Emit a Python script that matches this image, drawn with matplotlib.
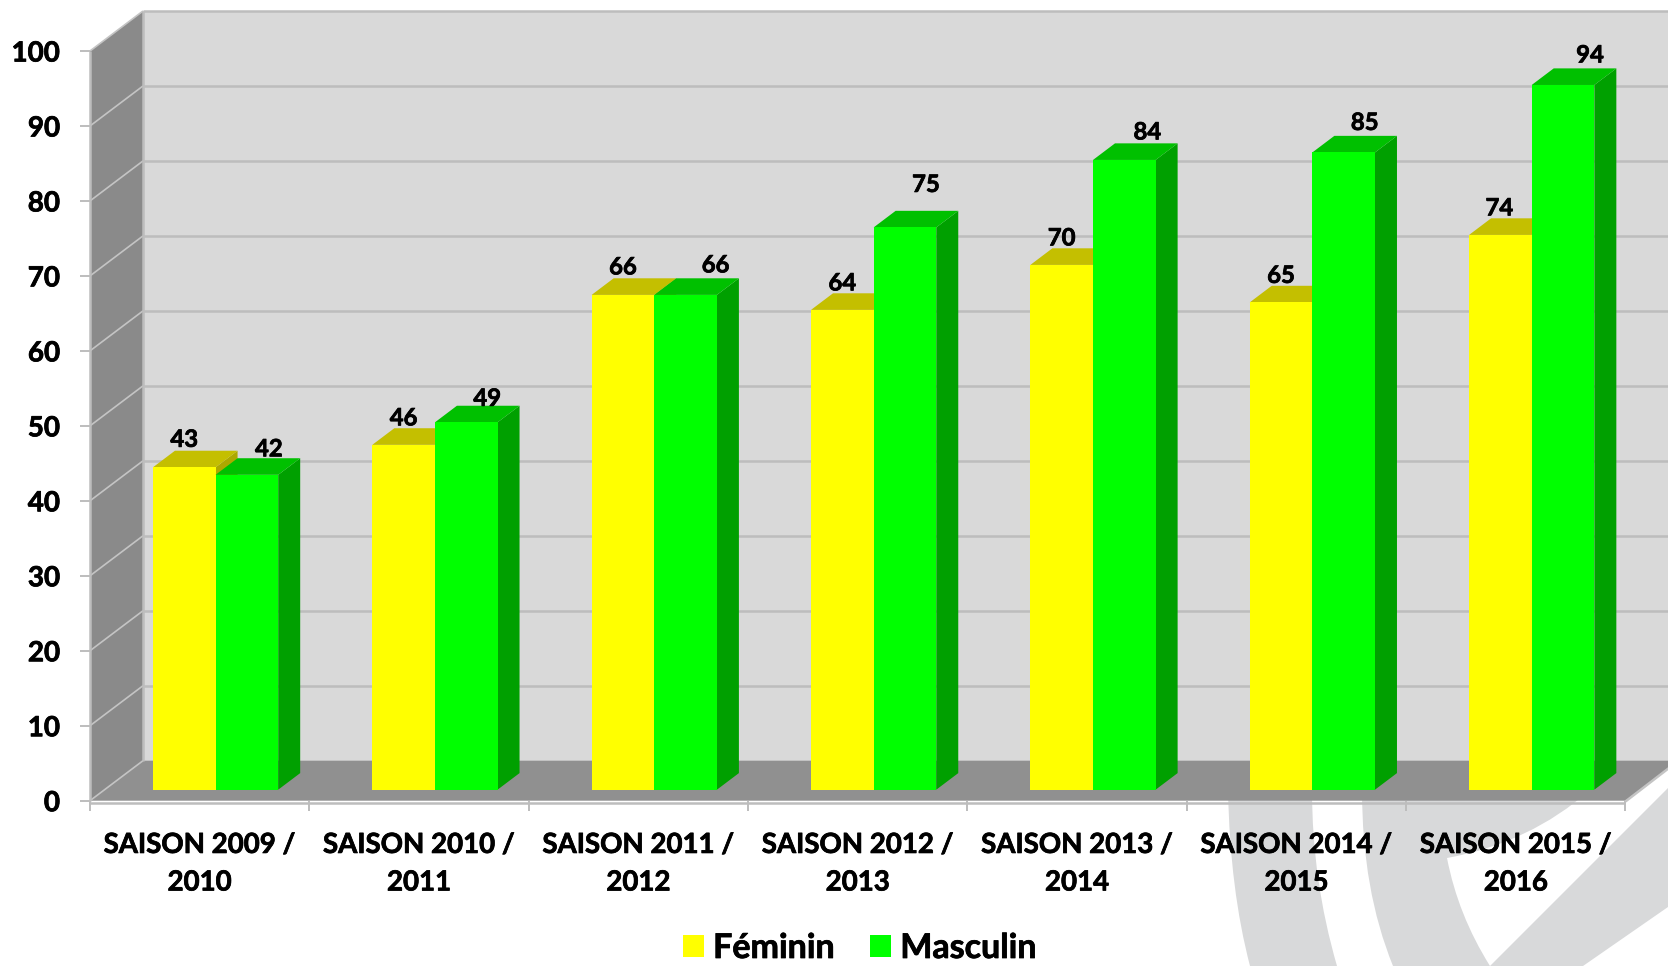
import matplotlib
matplotlib.use("Agg")
import matplotlib.pyplot as plt
import matplotlib.patheffects as pe
from matplotlib.patches import Polygon, PathPatch, Patch
from matplotlib.path import Path

# ---------- data ----------
categories = ["SAISON 2009 /\n2010", "SAISON 2010 /\n2011", "SAISON 2011 /\n2012",
              "SAISON 2012 /\n2013", "SAISON 2013 /\n2014", "SAISON 2014 /\n2015",
              "SAISON 2015 /\n2016"]
feminin = [43, 46, 66, 64, 70, 65, 74]
masculin = [42, 49, 66, 75, 84, 85, 94]
y_ticks = list(range(0, 101, 10))

# ---------- layout (pixels of the 1668x966 picture) ----------
W, H = 1668, 966
X0, X7, Y0, Y100 = 90.0, 1625.5, 800.7, 51.0
CAT_PX = (X7 - X0) / 7
VAL_PX = (Y0 - Y100) / 100
DX, DY = 53 / CAT_PX, 40 / VAL_PX      # full depth of the plot box in data units
BAR_D0, BAR_D1 = 0.275, 0.69           # front/back depth of bars
GAP, BAR_W = 0.2205, 0.2855
# label nudges in px: (dx, height above front top)
fem_nudge = [(0, 28), (0, 27), (0, 28), (0, 27), (0, 27), (0, 27), (-1, 27)]
mas_nudge = [(22, 26), (21, 24), (30, 30), (21, 43), (23, 28), (21, 30), (27, 30)]

WALL, SIDE, FLOOR, GRID = "#D9D9D9", "#8A8A8A", "#909090", "#BDBDBD"
WM = "#D8D9DA"
Y_FRONT, Y_TOP, Y_SIDE = "#FFFF00", "#C4BF00", "#ADA800"
G_FRONT, G_TOP, G_SIDE = "#00FF00", "#00C000", "#00A000"

FONT = "Lato"
plt.rcParams["font.family"] = [FONT, "DejaVu Sans"]
plt.rcParams["font.weight"] = "bold"
HEAVY = [pe.withStroke(linewidth=0.55, foreground="black")]

fig = plt.figure(figsize=(W / 100, H / 100), dpi=100, facecolor="white")

# ---------- watermark behind everything ----------
bg = fig.add_axes([0, 0, 1, 1], zorder=0)
bg.set_xlim(0, W)
bg.set_ylim(H, 0)
bg.axis("off")
C3, L, M = Path.CURVE3, Path.LINETO, Path.MOVETO
shapes = [
    ([(1228, 790), (1230, 890), (1250, 966), (1337, 966), (1312, 880), (1312, 790)],
     [M, C3, C3, L, C3, C3]),
    ([(1362, 790), (1362, 890), (1393, 966), (1490, 966), (1458, 915), (1447, 858),
      (1530, 843), (1590, 790)],
     [M, C3, C3, L, C3, C3, C3, C3]),
    ([(1490, 966), (1668, 788), (1668, 907), (1583, 966), (1490, 966)],
     [M, L, L, L, L]),
]
for verts, codes in shapes:
    bg.add_patch(PathPatch(Path(verts, codes), fc=WM, ec="none"))

# ---------- main axes ----------
ax = fig.add_axes([X0 / W, 1 - Y0 / H, (X7 - X0) / W, (Y0 - Y100) / H], zorder=1)
ax.set_xlim(0, 7)
ax.set_ylim(0, 100)
ax.patch.set_visible(False)
for s in ax.spines.values():
    s.set_visible(False)


def poly(pts, color, z=1, ec="none", lw=0):
    ax.add_patch(Polygon(pts, closed=True, fc=color, ec=ec, lw=lw, zorder=z, clip_on=False))


def line(xs, ys, z=2, lw=1.8, color=GRID):
    ax.plot(xs, ys, color=color, lw=lw, zorder=z, clip_on=False, solid_capstyle="butt")


# walls and floor
poly([(DX, DY), (7 + DX, DY), (7 + DX, 100 + DY), (DX, 100 + DY)], WALL)
poly([(0, 0), (DX, DY), (DX, 100 + DY), (0, 100)], SIDE)
poly([(0, 0), (7, 0), (7 + DX, DY), (DX, DY)], FLOOR)

for v in y_ticks:
    if v:
        line([DX, 7 + DX], [v + DY, v + DY])
    line([0, DX], [v, v + DY], lw=1.2, color="#C4C4C4")
line([DX, DX], [DY, 100 + DY])
line([0, 0], [0, 100], lw=1.8)
line([0, 7], [-0.25, -0.25], lw=1.8)
line([7, 7 + DX], [-0.1, DY], lw=1.8, color="#C4C4C4")

# ticks
ax.set_yticks(y_ticks)
ax.set_yticklabels([str(v) for v in y_ticks], fontsize=20, fontweight="bold",
                   path_effects=HEAVY)
ax.set_xticks(range(8))
ax.set_xticklabels([])
ax.tick_params(axis="y", length=7, width=1.4, color=GRID, pad=14.5)
ax.tick_params(axis="x", length=7.5, width=1.4, color=GRID, pad=0)
for i, c in enumerate(categories):
    ax.annotate(c, xy=(i + 0.5, 0), xycoords="data", xytext=(0, -63 * 0.72),
                textcoords="offset points", ha="center", va="center",
                fontsize=19.9, fontweight="bold", linespacing=1.55,
                annotation_clip=False, path_effects=HEAVY)


def bar3d(x, v, front, top, side, z):
    x0 = x + BAR_D0 * DX
    x1 = x + BAR_W + BAR_D0 * DX
    yb = BAR_D0 * DY
    d = (BAR_D1 - BAR_D0)
    ddx, ddy = d * DX, d * DY
    poly([(x1, yb), (x1 + ddx, yb + ddy), (x1 + ddx, yb + v + ddy), (x1, yb + v)], side, z)
    poly([(x0, yb + v), (x1, yb + v), (x1 + ddx, yb + v + ddy), (x0 + ddx, yb + v + ddy)], top, z)
    poly([(x0, yb), (x1, yb), (x1, yb + v), (x0, yb + v)], front, z + 0.1)
    return (x0 + x1) / 2, yb + v


for i, (f, m) in enumerate(zip(feminin, masculin)):
    z = 3 + i
    cx, cy = bar3d(i + GAP, f, Y_FRONT, Y_TOP, Y_SIDE, z)
    ax.annotate(str(f), xy=(cx, cy), xytext=(fem_nudge[i][0] * 0.72, fem_nudge[i][1] * 0.72),
                textcoords="offset points", ha="center", va="center",
                fontsize=17.2, fontweight="bold", zorder=20, annotation_clip=False,
                path_effects=HEAVY)
    cx, cy = bar3d(i + GAP + BAR_W, m, G_FRONT, G_TOP, G_SIDE, z + 0.3)
    ax.annotate(str(m), xy=(cx, cy), xytext=(mas_nudge[i][0] * 0.72, mas_nudge[i][1] * 0.72),
                textcoords="offset points", ha="center", va="center",
                fontsize=17.2, fontweight="bold", zorder=20, annotation_clip=False,
                path_effects=HEAVY)

# legend
handles = [Patch(fc=Y_FRONT, ec="none"), Patch(fc=G_FRONT, ec="none")]
fs = 24.5
leg = fig.legend(handles, ["Féminin", "Masculin"], ncol=2, frameon=False, loc="center",
                 bbox_to_anchor=(860 / W, 1 - 948 / H), fontsize=fs,
                 handlelength=15.1 / fs, handleheight=15.1 / fs, handletextpad=0.26,
                 columnspacing=1.05, borderpad=0, borderaxespad=0)
for t in leg.get_texts():
    t.set_path_effects(HEAVY)

fig.savefig("out.png", dpi=100, facecolor="white")
